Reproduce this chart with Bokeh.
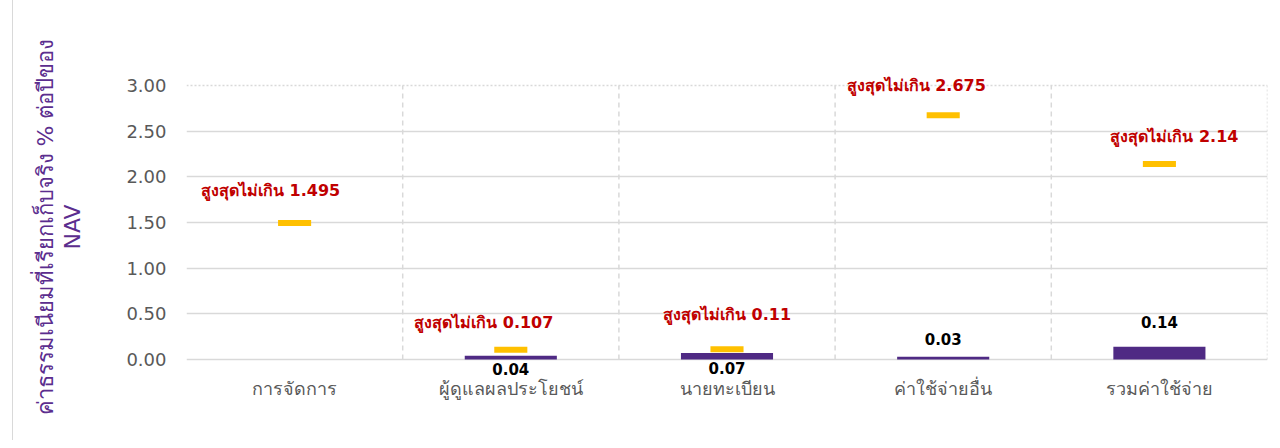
from bokeh.plotting import figure
from bokeh.models import (ColumnDataSource, FixedTicker, NumeralTickFormatter,
                          Range1d, FactorRange, LinearAxis)
from bokeh.core.properties import value
from bokeh.embed import file_html
from bokeh.resources import INLINE

# ---- data ----
categories = ["การจัดการ", "ผู้ดูแลผลประโยชน์", "นายทะเบียน", "ค่าใช้จ่ายอื่น", "รวมค่าใช้จ่าย"]
actual_fee = [float("nan"), 0.04, 0.07, 0.03, 0.14]
actual_text = ["", "0.04", "0.07", "0.03", "0.14"]
max_fee = [1.495, 0.107, 0.11, 2.675, 2.14]
max_text = ["1.495", "0.107", "0.11", "2.675", "2.14"]
y_ticks = [0, 0.5, 1.0, 1.5, 2.0, 2.5, 3.0]
y_title_lines = ["ค่าธรรมเนียมที่เรียกเก็บจริง % ต่อปีของ", "NAV"]

# ---- label placement (screen px, + = down) ----
max_dx = [-24, -27, 0, -27, 15]
max_dy = [-32, -27, -35, -30, -27]
act_dy = [0, 13, 15, -18, -25]

PURPLE = "#4F2A84"
YELLOW = "#FFC000"
RED = "#C00000"
GRID = "#D9D9D9"
FONT = "DejaVu Sans"
TITLE_PURPLE = "#5B2D8E"

src = ColumnDataSource(dict(
    cat=categories, actual=actual_fee, actual_text=actual_text,
    maxv=max_fee, max_label=["สูงสุดไม่เกิน " + t for t in max_text],
    max_dx=max_dx, max_dy=max_dy, act_dy=act_dy,
))

n = len(categories)
p = figure(width=1260, height=440, output_backend="svg", toolbar_location=None,
           x_range=FactorRange(*categories), y_range=Range1d(-0.22, 3.12),
           min_border_left=173, min_border_right=6, min_border_top=74,
           min_border_bottom=61)
p.margin = (0, 0, 0, 12)
p.styles = {"border-left": "1px solid #D9D9D9"}
p.outline_line_color = None

# grid
p.xgrid.grid_line_color = None
p.ygrid.ticker = FixedTicker(ticks=y_ticks[:-1])
p.ygrid.grid_line_color = GRID
p.ygrid.grid_line_width = 1.5

# category separators and dotted top/right border of plot area
seps = list(range(1, n))
p.segment(x0=seps, x1=seps, y0=y_ticks[0], y1=y_ticks[-1], line_color=GRID,
          line_width=1.5, line_dash="5 4")
p.segment(x0=[n], x1=[n], y0=y_ticks[0], y1=y_ticks[-1], line_color=GRID,
          line_width=1.5, line_dash="2 2")
p.segment(x0=[0], x1=[n], y0=y_ticks[-1], y1=y_ticks[-1], line_color=GRID,
          line_width=1.5, line_dash="2 2")

# axes
p.yaxis.ticker = FixedTicker(ticks=y_ticks)
p.yaxis.formatter = NumeralTickFormatter(format="0.00")
p.yaxis.axis_line_color = None
p.yaxis.major_tick_line_color = None
p.yaxis.minor_tick_line_color = None
p.yaxis.major_tick_out = 0
p.yaxis.major_label_standoff = 20
p.yaxis.major_label_text_font = FONT
p.yaxis.major_label_text_font_size = "18px"
p.yaxis.major_label_text_color = "#595959"
p.yaxis.axis_label = y_title_lines[1]
p.yaxis.axis_label_text_font = FONT
p.yaxis.axis_label_text_font_style = "normal"
p.yaxis.axis_label_text_font_size = "22px"
p.yaxis.axis_label_text_color = TITLE_PURPLE
p.yaxis.axis_label_standoff = 38

outer = LinearAxis(ticker=FixedTicker(ticks=[]), axis_line_color=None,
                   major_tick_line_color=None, minor_tick_line_color=None,
                   major_tick_out=0, minor_tick_out=0, major_label_standoff=0,
                   major_label_text_font_size="0px",
                   axis_label=y_title_lines[0], axis_label_standoff=0,
                   axis_label_text_font=FONT, axis_label_text_font_style="normal",
                   axis_label_text_font_size="22px",
                   axis_label_text_color=TITLE_PURPLE)
p.add_layout(outer, "left")

p.xaxis.axis_line_color = None
p.xaxis.major_tick_line_color = None
p.xaxis.minor_tick_line_color = None
p.xaxis.major_label_standoff = -8
p.xaxis.major_label_text_font = FONT
p.xaxis.major_label_text_font_size = "18px"
p.xaxis.major_label_text_color = "#595959"

# marks
p.vbar(x="cat", top="actual", bottom=0, width=0.426, source=src,
       fill_color=PURPLE, line_color=None)
p.rect(x="cat", y="maxv", width=0.153, height=6, height_units="screen",
       source=src, fill_color=YELLOW, line_color=None)

p.text(x="cat", y="maxv", text="max_label", x_offset="max_dx", y_offset="max_dy",
       source=src, text_align="center", text_baseline="middle",
       text_font=value(FONT), text_font_style="bold", text_font_size="16px",
       text_color=RED)
p.text(x="cat", y="actual", text="actual_text", y_offset="act_dy", source=src,
       text_align="center", text_baseline="middle", text_font=value(FONT),
       text_font_style="bold", text_font_size="15px", text_color="black")

open("out.html", "w").write(file_html(p, INLINE))
